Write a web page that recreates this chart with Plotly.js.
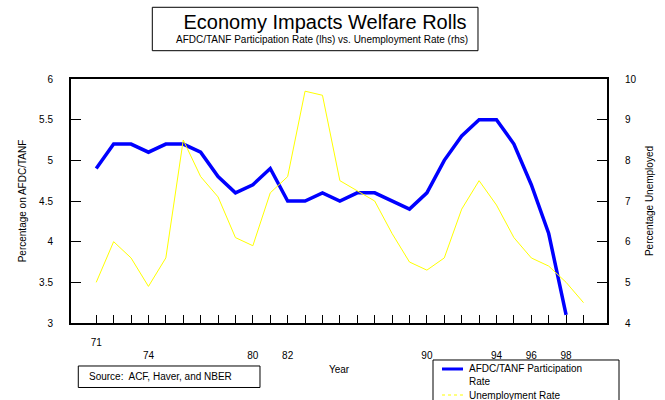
<!DOCTYPE html>
<html>
<head>
<meta charset="utf-8">
<script src="https://cdn.plot.ly/plotly-3.0.1.min.js"></script>
<style>html,body{margin:0;padding:0;background:#fff}#chart{width:665px;height:400px}</style>
</head>
<body>
<div id="chart"></div>
<script>
var years = [1971,1972,1973,1974,1975,1976,1977,1978,1979,1980,1981,1982,1983,1984,1985,1986,1987,1988,1989,1990,1991,1992,1993,1994,1995,1996,1997,1998,1999];
var afdcRate = [4.9,5.2,5.2,5.1,5.2,5.2,5.1,4.8,4.6,4.7,4.9,4.5,4.5,4.6,4.5,4.6,4.6,4.5,4.4,4.6,5.0,5.3,5.5,5.5,5.2,4.7,4.1,3.1,null];
var unempRate = [5.0,6.0,5.6,4.9,5.6,8.5,7.6,7.1,6.1,5.9,7.2,7.6,9.7,9.6,7.5,7.25,7.0,6.2,5.5,5.3,5.6,6.8,7.5,6.9,6.1,5.6,5.4,5.0,4.5];
var tickLabelMap = {1971:"71",1974:"74",1980:"80",1982:"82",1990:"90",1994:"94",1996:"96",1998:"98"};
var seriesNames = ["AFDC/TANF Participation<br>Rate", "Unemployment Rate"];
var tickTexts = years.map(function(y){
  var t = tickLabelMap[y];
  if (!t) return "";
  return y === 1971 ? t : "<br>" + t;
});

var FONT = "Liberation Sans, Arial, sans-serif";
var BLUE = "#0000FF", YELLOW = "#FFFF00";

var traces = [
  {x: years, y: afdcRate, name: seriesNames[0], type: "scatter", mode: "lines",
   line: {color: BLUE, width: 3.5}, yaxis: "y"},
  {x: years, y: unempRate, name: seriesNames[1], type: "scatter", mode: "lines",
   line: {color: YELLOW, width: 1}, yaxis: "y2"}
];

function txt(s, x, y, size, anchor) {
  return {text: s, xref: "paper", yref: "paper", x: x, y: y, xanchor: anchor || "left",
          yanchor: "middle", align: "left", showarrow: false, borderpad: 0,
          font: {family: FONT, size: size || 10, color: "#000"}};
}

var layout = {
  width: 665, height: 400,
  margin: {l: 71, r: 58, t: 79, b: 77},
  paper_bgcolor: "#fff", plot_bgcolor: "#fff",
  font: {family: FONT, size: 10, color: "#000"},
  showlegend: false,
  title: {text: "Economy Impacts Welfare Rolls", font: {family: FONT, size: 20, color: "#000"},
          x: 0.474, xanchor: "center", y: 0.944, yanchor: "middle", xref: "paper"},
  xaxis: {range: [1969.55, 2000.35], tickvals: years, ticktext: tickTexts, ticks: "inside",
          ticklen: 8, tickcolor: "#000", showgrid: false, zeroline: false,
          showline: true, linecolor: "#000", linewidth: 2, mirror: true,
          ticklabelstandoff: 9, tickangle: 0,
          title: {text: "Year", font: {family: FONT, size: 10}, standoff: 6}},
  yaxis: {range: [3, 6], dtick: 0.5, ticks: "inside", ticklen: 10, tickcolor: "#000",
          showgrid: false, zeroline: false, showline: true, linecolor: "#000", linewidth: 2,
          ticklabelstandoff: 14,
          title: {text: "Percentage on AFDC/TANF", font: {family: FONT, size: 10}, standoff: 11}},
  yaxis2: {range: [4, 10], dtick: 1, overlaying: "y", side: "right", ticks: "inside", ticklen: 10,
           tickcolor: "#000", showgrid: false, zeroline: false, showline: true, linecolor: "#000",
           linewidth: 2, ticklabelstandoff: 14,
           title: {text: "Percentage Unemployed", font: {family: FONT, size: 10}, standoff: 10}},
  shapes: [
    {type: "rect", xref: "paper", yref: "paper", x0: 0.1517, x1: 0.7593, y0: 1.2939, y1: 1.1160,
     line: {color: "#000", width: 1}, fillcolor: "rgba(0,0,0,0)"},
    {type: "rect", xref: "paper", yref: "paper", x0: 0.0136, x1: 0.3526, y0: -0.1762, y1: -0.2643,
     line: {color: "#000", width: 1}, fillcolor: "rgba(0,0,0,0)"},
    {type: "rect", xref: "paper", yref: "paper", x0: 0.6754, x1: 1.0224, y0: -0.1516, y1: -0.34,
     line: {color: "#000", width: 1}, fillcolor: "#fff"},
    {type: "line", xref: "paper", yref: "paper", x0: 0.6922, x1: 0.7313, y0: -0.1885, y1: -0.1885,
     line: {color: BLUE, width: 3}},
    {type: "line", xref: "paper", yref: "paper", x0: 0.6922, x1: 0.7313, y0: -0.2951, y1: -0.2951,
     line: {color: YELLOW, width: 1, dash: "dot"}}
  ],
  annotations: [
    txt("AFDC/TANF Participation Rate (lhs) vs. Unemployment Rate (rhs)", 0.468, 1.160, 10, "center"),
    txt("Source:  ACF, Haver, and NBER", 0.0317, -0.2213),
    txt(seriesNames[0], 0.7407, -0.2131, 10),
    txt(seriesNames[1], 0.7407, -0.2951, 10)
  ]
};

Plotly.newPlot("chart", traces, layout, {displayModeBar: false, staticPlot: true});
</script>
</body>
</html>
